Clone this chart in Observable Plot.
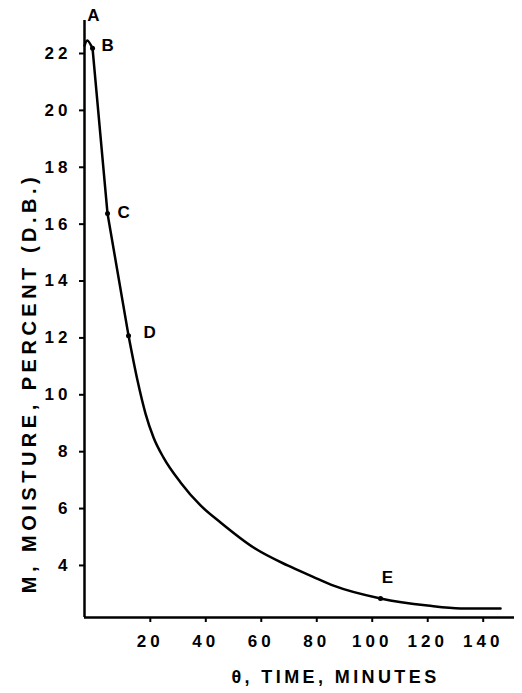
<!DOCTYPE html>
<html>
<head>
<meta charset="utf-8">
<script src="https://cdn.jsdelivr.net/npm/d3@7"></script>
<script src="https://cdn.jsdelivr.net/npm/@observablehq/plot@0.6"></script>
<style>
  html, body { margin: 0; padding: 0; background: white; }
  #chart svg { display: block; }
  #chart svg text { letter-spacing: 4px; }
  #chart g.title-y text { letter-spacing: 4.5px; }
  #chart g.title-x text { letter-spacing: 3.4px; }
</style>
</head>
<body>
<div id="chart"></div>
<script>
// Drying curve: A-B warm-up hump, B-C-D straight, D-E falling
const humpTime = [-3.0, -2.0, -0.1];
const humpMoisture = [22.28, 22.46, 22.18];
const straightTime = [-0.1, 5.3, 12.87];
const straightMoisture = [22.18, 16.37, 12.08];
const fallingTime = [12.87, 16.11, 18.99, 21.88, 25.49, 31.62, 38.83, 46.04, 57.93, 70.19, 79.20, 86.77, 103.71, 120.65, 132.55, 146.97];
const fallingMoisture = [12.08, 10.50, 9.34, 8.50, 7.79, 6.92, 6.11, 5.51, 4.63, 4.00, 3.61, 3.29, 2.84, 2.59, 2.49, 2.49];

// Marked points
const pointNames = ["B", "C", "D", "E"];
const pointTime = [-0.1, 5.3, 12.87, 103.71];
const pointMoisture = [22.18, 16.37, 12.08, 2.84];

// Axis ticks and titles
const xTicks = [20, 40, 60, 80, 100, 120, 140];
const yTicks = [4, 6, 8, 10, 12, 14, 16, 18, 20, 22];
const xTitle = "θ, TIME, MINUTES";
const yTitle = "M, MOISTURE, PERCENT (D.B.)";
const topLabel = "A";

const xMin = -3, xMax = 152, yMin = 2.17, yMax = 23.16;

const toRows = (ts, ms) => ts.map((t, i) => ({time: t, moisture: ms[i]}));
const points = pointNames.map((n, i) => ({name: n, time: pointTime[i], moisture: pointMoisture[i]}));
const labelOffsets = {B: [17, -3], C: [18, -1], D: [23, -3], E: [9, -21]};

const lineStyle = {x: "time", y: "moisture", stroke: "black", strokeWidth: 2.5};

const chart = Plot.plot({
  width: 522,
  height: 693,
  marginLeft: 84,
  marginRight: 8,
  marginTop: 20,
  marginBottom: 76,
  style: {background: "white", color: "black", fontFamily: "'Liberation Sans', Arial, sans-serif", fontSize: "17px", fontWeight: "bold"},
  x: {domain: [xMin, xMax]},
  y: {domain: [yMin, yMax]},
  marks: [
    Plot.axisY({ticks: yTicks, tickSize: 5, tickPadding: 8, tickFormat: d => String(d), label: null, strokeWidth: 2}),
    Plot.axisX({ticks: xTicks, tickSize: 5, tickPadding: 12, tickFormat: d => String(d), label: null, strokeWidth: 2, dx: 2}),
    Plot.ruleX([xMin], {stroke: "black", strokeWidth: 2.5}),
    Plot.ruleY([yMin], {stroke: "black", strokeWidth: 2.5}),
    Plot.line(toRows(humpTime, humpMoisture), {...lineStyle, curve: "catmull-rom"}),
    Plot.line(toRows(straightTime, straightMoisture), {...lineStyle, curve: "linear"}),
    Plot.line(toRows(fallingTime, fallingMoisture), {...lineStyle, curve: "monotone-x"}),
    Plot.dot(points, {x: "time", y: "moisture", r: 2.5, fill: "black"}),
    ...points.map(p => Plot.text([p], {x: "time", y: "moisture", text: "name", dx: labelOffsets[p.name][0], dy: labelOffsets[p.name][1], fontSize: 17, fill: "black"})),
    Plot.text([{time: xMin, moisture: yMax}], {x: "time", y: "moisture", text: () => topLabel, dx: 11, dy: -5, fontSize: 17, fill: "black"}),
    Plot.text([yTitle], {frameAnchor: "left", textAnchor: "middle", lineAnchor: "middle", rotate: -90, dx: -55, dy: 64, fontSize: 20, fill: "black", className: "title-y"}),
    Plot.text([xTitle], {frameAnchor: "bottom", textAnchor: "middle", lineAnchor: "middle", dx: 36, dy: 60, fontSize: 18, fill: "black", className: "title-x"})
  ]
});
document.getElementById("chart").appendChild(chart);
</script>
</body>
</html>
